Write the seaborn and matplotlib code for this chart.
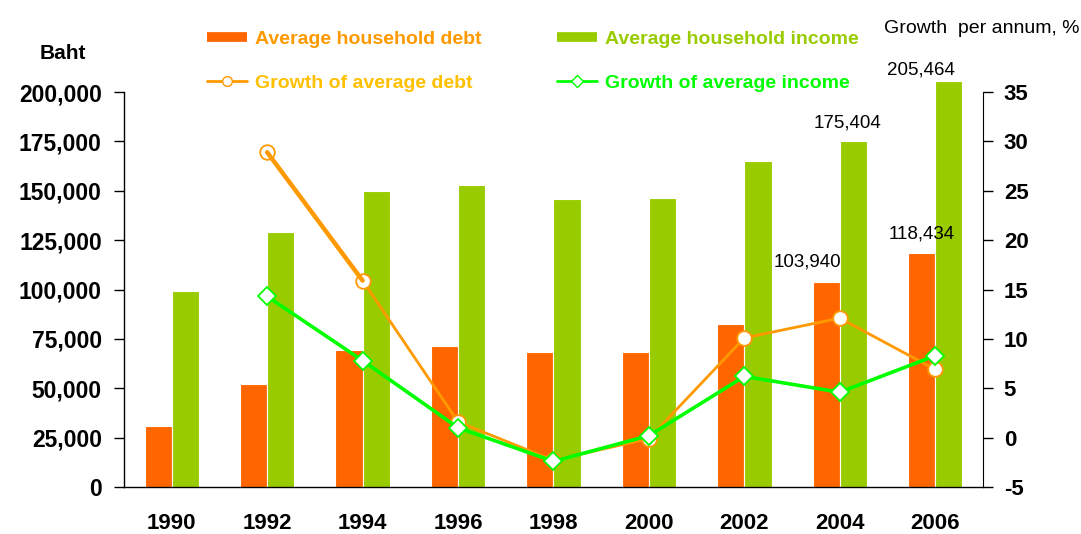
import numpy as np
import pandas as pd
import seaborn as sns
import matplotlib.pyplot as plt
from matplotlib.lines import Line2D

# data
years = ['1990', '1992', '1994', '1996', '1998', '2000', '2002', '2004', '2006']
avg_debt = [31000, 52000, 69400, 71400, 68200, 68200, 82700, 103940, 118434]
avg_income = [99000, 129000, 149700, 153000, 145800, 146300, 165000, 175404, 205464]
debt_growth = [np.nan, 28.9, 15.9, 1.6, -2.3, -0.1, 10.1, 12.1, 6.9]
income_growth = [np.nan, 14.3, 7.8, 1.0, -2.4, 0.2, 6.2, 4.6, 8.3]

debt_name = 'Average household debt'
income_name = 'Average household income'
debt_growth_name = 'Growth of average debt'
income_growth_name = 'Growth of average income'

c_debt = '#FF6600'
c_income = '#99CC00'
c_debt_line = '#FF9900'
c_income_line = '#00FF00'

sns.set_style('white')
plt.rcParams['font.family'] = ['Liberation Sans', 'DejaVu Sans']
plt.rcParams['text.color'] = 'black'
plt.rcParams['xtick.color'] = 'black'
plt.rcParams['ytick.color'] = 'black'

df = pd.DataFrame({
    'year': years * 2,
    'series': [debt_name] * len(years) + [income_name] * len(years),
    'value': avg_debt + avg_income,
})

fig = plt.figure(figsize=(10.81, 5.34), dpi=100)
ax = fig.add_axes([0.1147, 0.088, 0.7946, 0.7397])

sns.barplot(data=df, x='year', y='value', hue='series', order=years,
            hue_order=[debt_name, income_name], palette=[c_debt, c_income],
            saturation=1, width=0.57, edgecolor='white', linewidth=0.8,
            legend=False, ax=ax)
for p in ax.patches:
    p.set_clip_on(False)

ax.set_xlim(-0.5, len(years) - 0.5)
ax.set_ylim(0, 200000)
ax.set_yticks(np.arange(0, 200001, 25000))
ax.set_yticklabels([f'{v:,}' for v in range(0, 200001, 25000)],
                   fontsize=16.5, fontweight='bold')
ax.set_xlabel('')
ax.set_ylabel('')

# ticks between groups, year labels in the middle
pos = np.arange(len(years))
ax.set_xticks(np.arange(-0.5, len(years), 1.0))
ax.set_xticklabels([])
ax.set_xticks(pos, minor=True)
ax.set_xticklabels(years, minor=True, fontsize=16, fontweight='bold')
ax.tick_params(axis='x', which='major', direction='out', length=8, width=1, color='black')
ax.tick_params(axis='x', which='minor', length=0, pad=19)
ax.tick_params(axis='y', direction='out', length=7, width=1, color='black', pad=9, left=True)
for s in ['top', 'right']:
    ax.spines[s].set_visible(False)
for s in ['left', 'bottom']:
    ax.spines[s].set_color('black')
    ax.spines[s].set_linewidth(1)

# growth lines on the right axis
ax2 = ax.twinx()
sns.lineplot(x=pos[1:], y=debt_growth[1:], color=c_debt_line, lw=2, marker='o',
             markersize=10.5, markerfacecolor='white', markeredgecolor=c_debt_line,
             markeredgewidth=1.3, ax=ax2)
sns.lineplot(x=pos[1:3], y=debt_growth[1:3], color=c_debt_line, lw=3.2, ax=ax2)
sns.lineplot(x=pos[1:], y=income_growth[1:], color=c_income_line, lw=2.6, marker='D',
             markersize=9, markerfacecolor='white', markeredgecolor=c_income_line,
             markeredgewidth=1.3, ax=ax2)
ax2.set_ylim(-5, 35)
ax2.set_yticks(np.arange(-5, 36, 5))
ax2.set_yticklabels([str(v) for v in range(-5, 36, 5)], fontsize=16, fontweight='bold')
ax2.tick_params(axis='y', direction='out', length=7, width=1, color='black', pad=8, right=True)
for s in ['top', 'left', 'bottom']:
    ax2.spines[s].set_visible(False)
ax2.spines['right'].set_color('black')
ax2.set_ylabel('')
ax2.grid(False)
ax.grid(False)

# value labels
bar_w = 0.285
labels = [
    (7 - bar_w / 2, avg_debt[7], -13.6, 14),
    (8 - bar_w / 2, avg_debt[8], 0.0, 14),
    (7 + bar_w / 2, avg_income[7], -4, 13),
    (8 + bar_w / 2, avg_income[8], -20, 8),
]
for x, v, dx, dy in labels:
    ax.annotate(f'{v:,}', xy=(x, v), xytext=(dx, dy), textcoords='offset points',
                ha='center', va='center', fontsize=13.5, annotation_clip=False)

fig.text(0.058, 0.899, 'Baht', fontsize=15, fontweight='bold', ha='center', va='center')
fig.text(0.999, 0.947, 'Growth  per annum, %', fontsize=14, ha='right', va='center')

handles = [
    Line2D([], [], color=c_debt, lw=7, solid_capstyle='butt'),
    Line2D([], [], color=c_debt_line, lw=2, marker='o', markersize=7,
           markerfacecolor='white', markeredgecolor=c_debt_line),
    Line2D([], [], color=c_income, lw=7, solid_capstyle='butt'),
    Line2D([], [], color=c_income_line, lw=2, marker='D', markersize=6,
           markerfacecolor='white', markeredgecolor=c_income_line),
]
names = [debt_name, debt_growth_name, income_name, income_growth_name]
fig.legend(handles, names, ncol=2, loc='upper left', bbox_to_anchor=(0.1915, 0.943),
           frameon=False, prop={'size': 14, 'weight': 'bold'},
           labelcolor=['#FF9900', '#FFC000', c_income, c_income_line],
           handlelength=2.05, handletextpad=0.4, columnspacing=3.9,
           labelspacing=1.35, borderpad=0, borderaxespad=0)

fig.savefig('out.png', dpi=100)
